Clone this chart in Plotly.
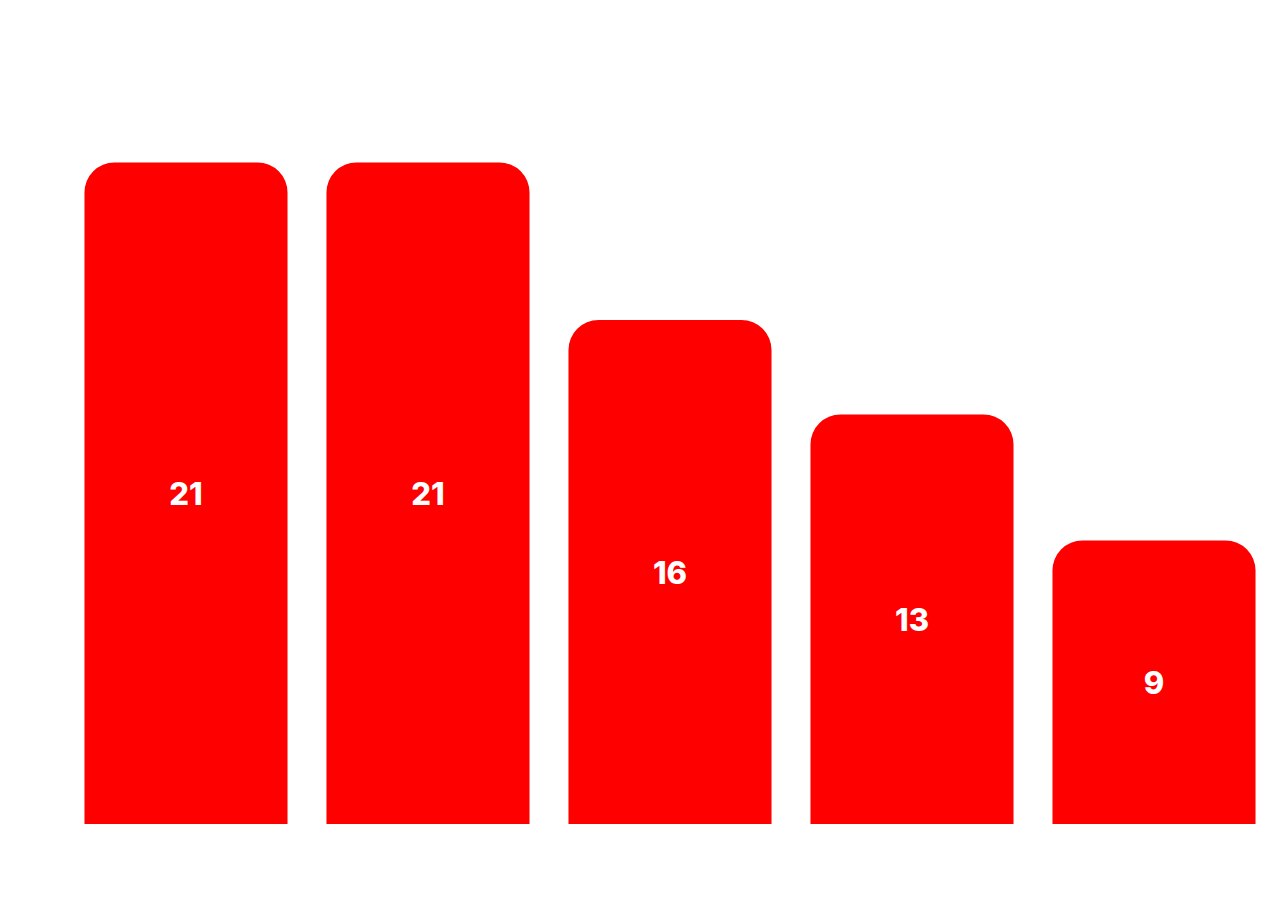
import plotly.graph_objects as go

categories = ["A", "B", "C", "D", "E"]
values = [21, 21, 16, 13, 9]
labels = ["21", "21", "16", "13", "9"]

fig = go.Figure(
    go.Bar(
        x=categories,
        y=values,
        text=labels,
        textposition="inside",
        insidetextanchor="middle",
        textangle=0,
        textfont=dict(family="Inter", size=31, color="white", weight=800),
        marker=dict(color="#FF0000", cornerradius=30, line=dict(width=0)),
        hoverinfo="skip",
    )
)

fig.update_layout(
    width=1280,
    height=900,
    margin=dict(l=65, r=5, t=68, b=76),
    paper_bgcolor="white",
    plot_bgcolor="white",
    bargap=0.161,
    showlegend=False,
    uniformtext=dict(minsize=10, mode="show"),
)
fig.update_xaxes(visible=False, range=[-0.5, 4.5])
fig.update_yaxes(visible=False, range=[0, 24])

fig.write_html("out.html")
